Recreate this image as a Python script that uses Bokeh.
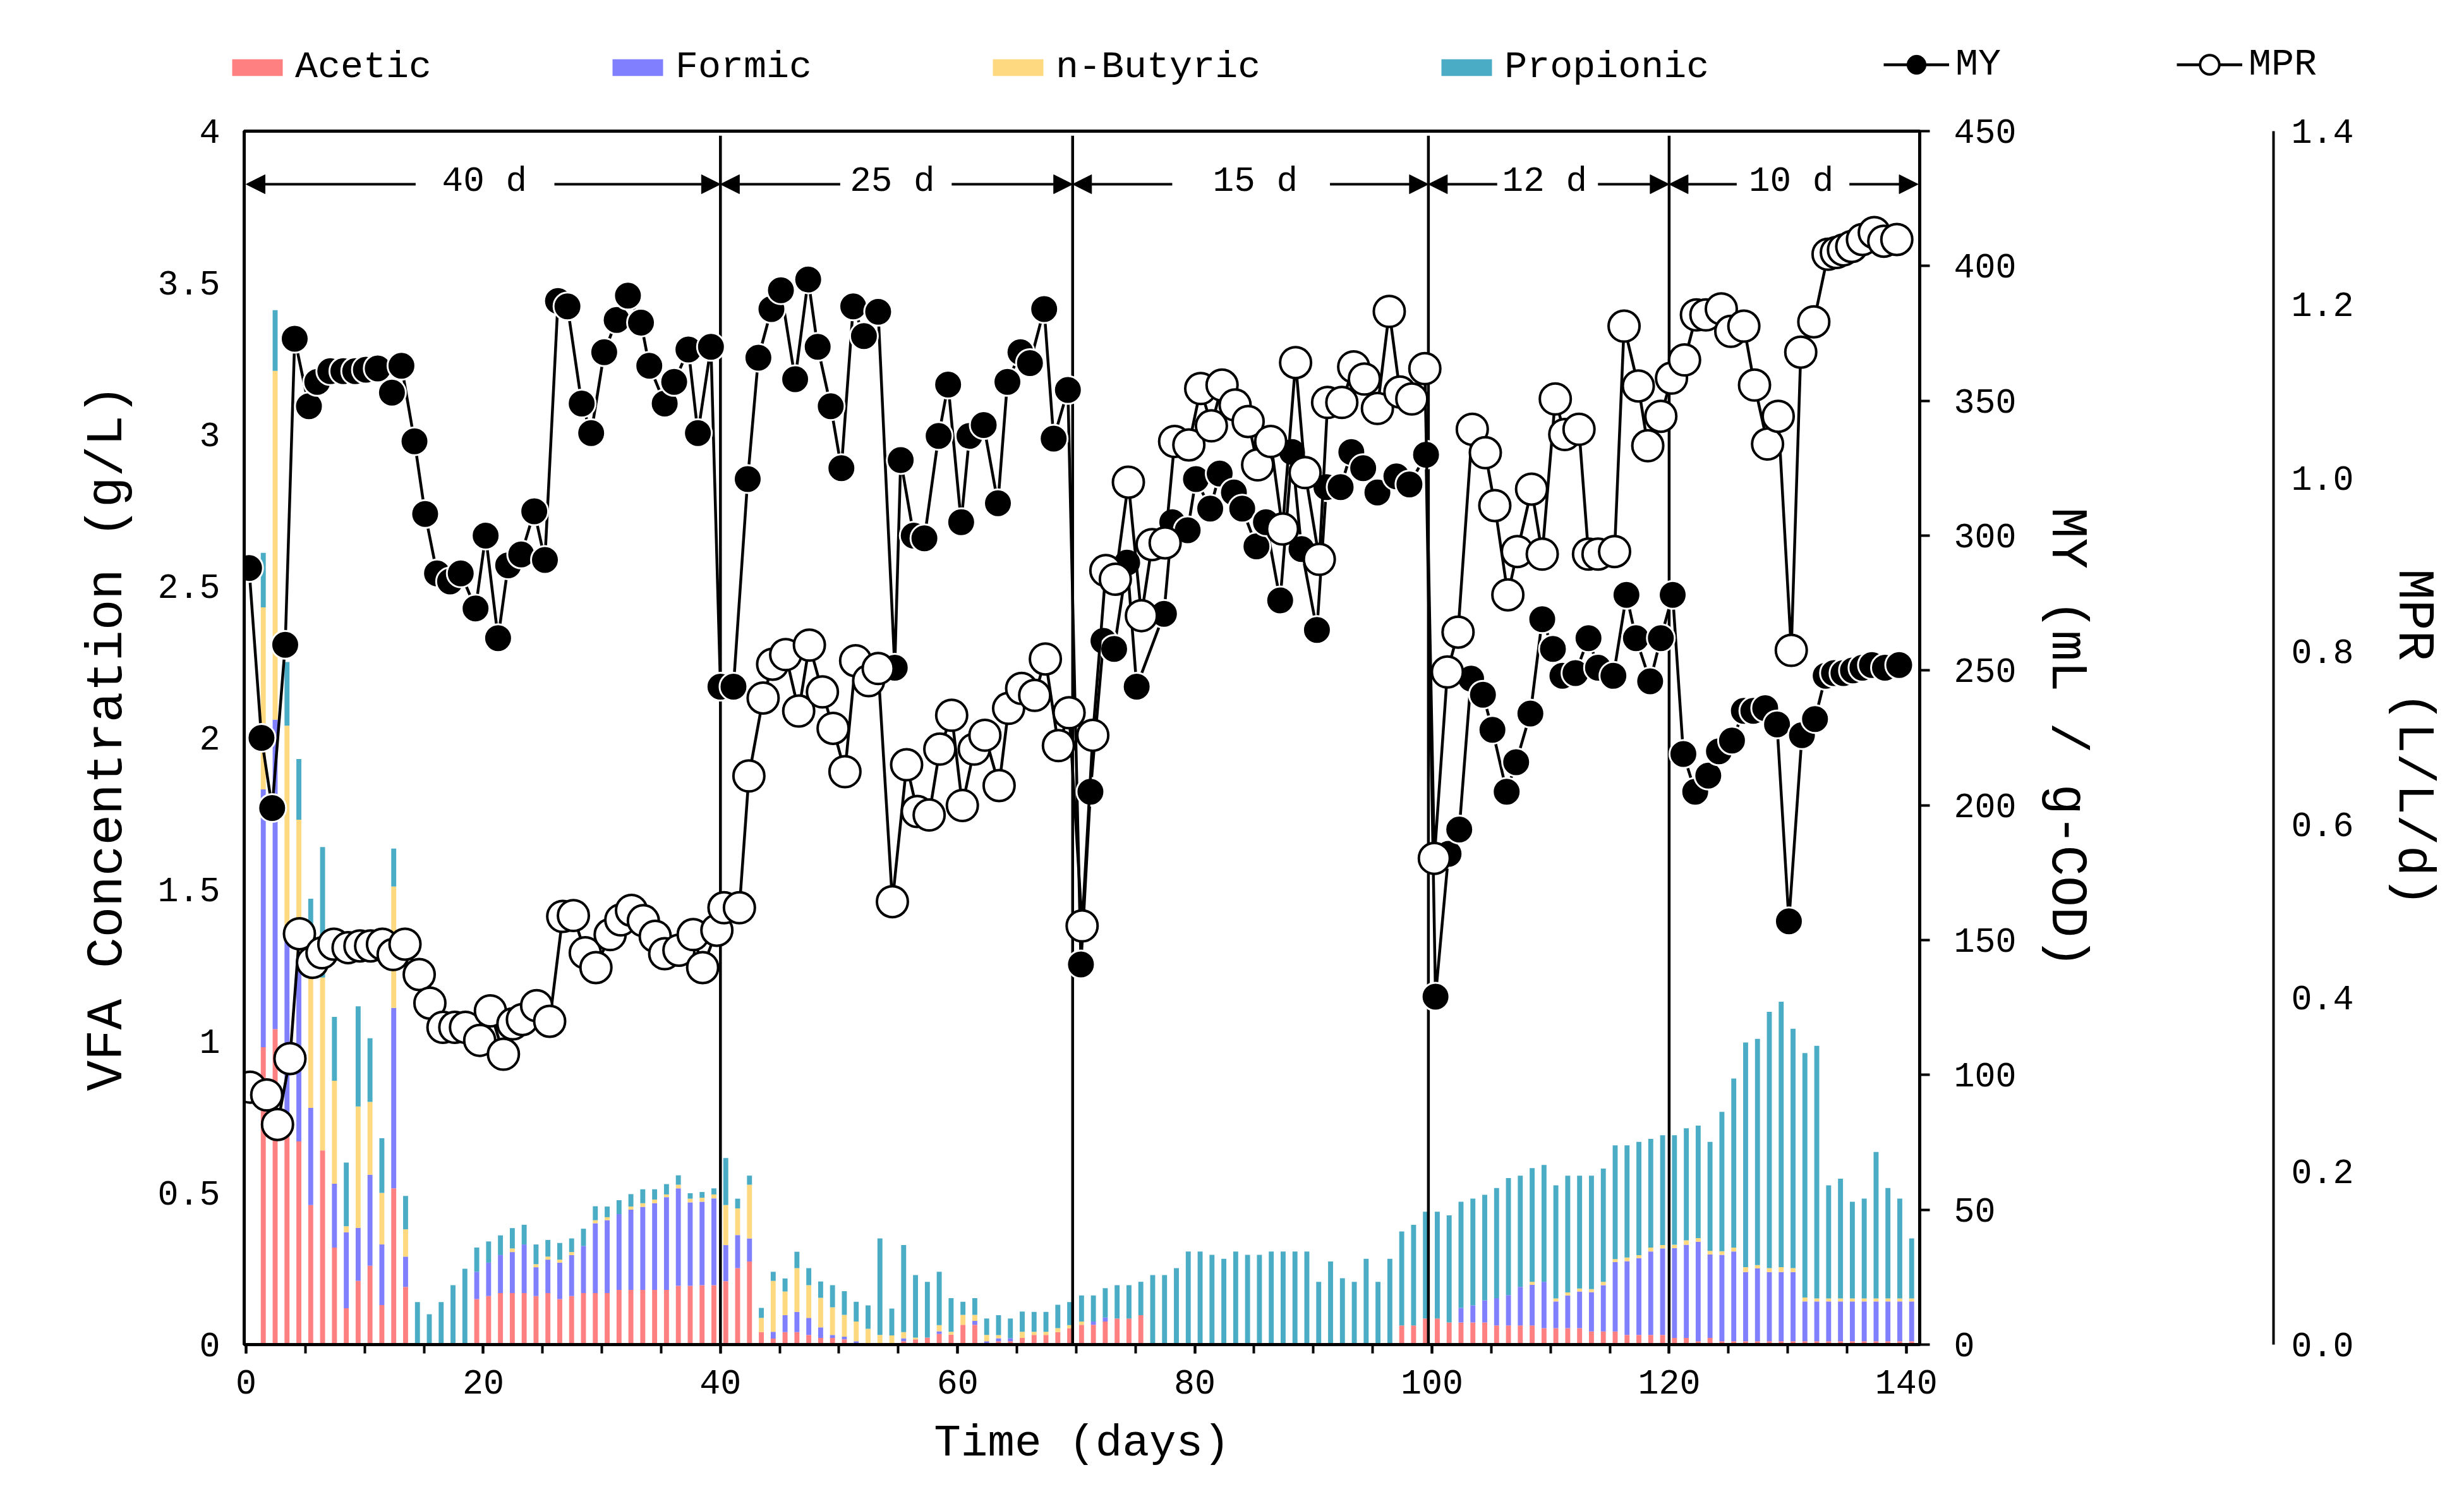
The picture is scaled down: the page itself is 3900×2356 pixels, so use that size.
from bokeh.plotting import figure
from bokeh.layouts import column
from bokeh.models import (Range1d, LinearAxis, FixedTicker, PrintfTickFormatter, Legend,
                          LegendItem, Arrow, NormalHead, Label, ColumnDataSource,
                          CustomJSTickFormatter)
from bokeh.transform import dodge
from bokeh.embed import file_html
from bokeh.resources import INLINE

FONT = "Liberation Mono"

# ---------------- data ----------------
days = list(range(1, 141))
acetic = [0.98, 1.04, 0.75, 0.67, 0.46, 0.64, 0.32, 0.12, 0.21, 0.26, 0.13, 0.515, 0.19,
          0, 0, 0, 0, 0,
          0.15, 0.16, 0.17, 0.17, 0.17, 0.16, 0.17, 0.15, 0.16, 0.17,
          0.17, 0.17, 0.18, 0.18, 0.18, 0.18, 0.18, 0.194, 0.194, 0.196, 0.196,
          0.209, 0.252, 0.274, 0.041, 0.02, 0.041, 0.041, 0.032, 0.022, 0.022, 0.017,
          0, 0, 0, 0, 0.011, 0.017, 0.023, 0.035, 0.033, 0.065,
          0.065, 0, 0.011, 0.011, 0.022, 0.032, 0.032, 0.041, 0.054, 0.065,
          0.065, 0.076, 0.086, 0.086, 0.097, 0, 0, 0, 0, 0,
          0, 0, 0, 0, 0, 0, 0, 0, 0, 0,
          0, 0, 0, 0, 0, 0, 0.063, 0.063, 0.086, 0.086,
          0.073, 0.073, 0.073, 0.073, 0.063, 0.063, 0.063, 0.063, 0.054, 0.054,
          0.054, 0.054, 0.043, 0.043, 0.043, 0.032, 0.032, 0.032, 0.032, 0.022,
          0.022, 0.011, 0.022, 0.011, 0.011, 0.011, 0.011, 0.011, 0.011, 0.011,
          0.011, 0.011, 0.011, 0.011, 0.011, 0.011, 0.011, 0.011, 0.011, 0.011]
formic = [0.85, 1.02, 0.62, 0.56, 0.32, 0, 0.21, 0.25, 0.175, 0.30, 0.20, 0.595, 0.10,
          0, 0, 0, 0, 0,
          0.09, 0.11, 0.125, 0.135, 0.16, 0.095, 0.11, 0.12, 0.135, 0.155,
          0.23, 0.24, 0.25, 0.265, 0.274, 0.286, 0.306, 0.321, 0.275, 0.275, 0.286,
          0.119, 0.109, 0.076, 0, 0.022, 0.056, 0.067, 0.056, 0.035, 0.01, 0.009,
          0.011, 0, 0, 0, 0.01, 0, 0, 0.009, 0, 0,
          0.013, 0.011, 0.01, 0.01, 0, 0, 0, 0, 0, 0,
          0.011, 0.013, 0, 0, 0, 0, 0, 0, 0, 0,
          0, 0, 0, 0, 0, 0, 0, 0, 0, 0,
          0, 0, 0, 0, 0, 0, 0, 0, 0, 0,
          0, 0.048, 0.056, 0.073, 0.09, 0.10, 0.127, 0.134, 0.153, 0.088,
          0.108, 0.121, 0.13, 0.153, 0.229, 0.243, 0.253, 0.275, 0.285, 0.296,
          0.307, 0.328, 0.275, 0.285, 0.296, 0.228, 0.24, 0.228, 0.228, 0.228,
          0.131, 0.131, 0.131, 0.131, 0.131, 0.131, 0.131, 0.131, 0.131, 0.131]
butyric = [0.60, 1.15, 0.67, 0.50, 0.54, 0.57, 0.34, 0.02, 0.40, 0.24, 0.17, 0.40, 0.09,
           0, 0, 0, 0, 0,
           0, 0, 0, 0.012, 0, 0.01, 0.01, 0.01, 0.01, 0,
           0.01, 0.01, 0, 0.01, 0.012, 0.012, 0.009, 0.012, 0.012, 0.013, 0.013,
           0.132, 0.088, 0.177, 0.047, 0.168, 0.078, 0.144, 0.108, 0.097, 0.091, 0.072,
           0.065, 0.052, 0.032, 0.03, 0.02, 0.006, 0, 0.02, 0.009, 0.033,
           0.02, 0.021, 0.01, 0, 0.02, 0.01, 0.01, 0.013, 0.01, 0.011,
           0, 0, 0, 0, 0, 0, 0, 0, 0, 0,
           0, 0, 0, 0, 0, 0, 0, 0, 0, 0,
           0, 0, 0, 0, 0, 0, 0, 0, 0, 0,
           0, 0, 0, 0, 0, 0, 0, 0.01, 0, 0.01,
           0.01, 0.01, 0.01, 0.011, 0.01, 0.012, 0.01, 0.013, 0.011, 0.011,
           0.015, 0.012, 0.012, 0.012, 0.013, 0.016, 0.011, 0.013, 0.016, 0.013,
           0.013, 0.01, 0.01, 0.01, 0.01, 0.01, 0.01, 0.01, 0.01, 0.01]
propionic = [0.18, 0.20, 0.21, 0.20, 0.15, 0.43, 0.21, 0.21, 0.33, 0.21, 0.18, 0.125, 0.11,
             0.14, 0.10, 0.14, 0.196, 0.25,
             0.08, 0.07, 0.065, 0.067, 0.065, 0.065, 0.055, 0.055, 0.045, 0.057,
             0.046, 0.035, 0.046, 0.041, 0.046, 0.034, 0.034, 0.031, 0.018, 0.019, 0.02,
             0.155, 0.032, 0.03, 0.033, 0.03, 0.043, 0.054, 0.056, 0.054, 0.073, 0.078,
             0.065, 0.077, 0.318, 0.089, 0.287, 0.206, 0.184, 0.176, 0.111, 0.043,
             0.055, 0.054, 0.066, 0.065, 0.067, 0.066, 0.066, 0.077, 0.076, 0.086,
             0.086, 0.097, 0.11, 0.11, 0.11, 0.229, 0.229, 0.252, 0.307, 0.307,
             0.296, 0.283, 0.307, 0.296, 0.296, 0.307, 0.307, 0.307, 0.307, 0.207,
             0.274, 0.219, 0.207, 0.283, 0.207, 0.283, 0.31, 0.332, 0.352, 0.352,
             0.353, 0.35, 0.352, 0.348, 0.363, 0.386, 0.367, 0.375, 0.385, 0.373,
             0.385, 0.372, 0.374, 0.373, 0.375, 0.37, 0.373, 0.358, 0.362, 0.361,
             0.369, 0.371, 0.359, 0.459, 0.557, 0.741, 0.746, 0.845, 0.875, 0.789,
             0.806, 0.833, 0.373, 0.395, 0.319, 0.329, 0.483, 0.364, 0.329, 0.198]

my_day = [0.25, 1.3, 2.2, 3.3, 4.1, 5.3, 6.0, 7.1, 8.2, 9.2, 10.1, 11.1, 12.3, 13.1, 14.2,
          15.1, 16.1, 17.2, 18.1, 19.35, 20.2, 21.25, 22.1, 23.2, 24.3, 25.2, 26.3, 27.1,
          28.3, 29.1, 30.2, 31.25, 32.2, 33.3, 34.0, 35.3, 36.1, 37.3, 38.1, 39.2,
          40.0, 41.1, 42.3, 43.2, 44.3, 45.1, 46.3, 47.4, 48.2, 49.3, 50.2, 51.2, 52.1,
          53.3, 54.7, 55.2, 56.3, 57.2, 58.4, 59.2, 60.3, 61.0, 62.2, 63.4, 64.2, 65.3,
          66.1, 67.3, 68.1, 69.3,
          70.4, 71.2, 72.3, 73.2, 74.3, 75.1, 77.4, 78.1, 79.4, 80.1, 81.3, 82.1, 83.3,
          84.0, 85.2, 86.0, 87.2, 88.2, 89.0, 90.3, 91.1, 92.3, 93.2, 94.2, 95.4, 97.0,
          98.1, 99.5,
          100.3, 101.4, 102.3, 103.3, 104.3, 105.1, 106.3, 107.1, 108.3, 109.3, 110.2,
          111.0, 112.1, 113.2, 114.0, 115.3, 116.4, 117.2, 118.4, 119.3,
          120.3, 121.2, 122.2, 123.3, 124.2, 125.3, 126.3, 127.1, 128.1, 129.1, 130.1,
          131.2, 132.3, 133.2, 133.9, 134.7, 135.5, 136.3, 137.1, 138.2, 139.4]
my_val = [288, 225, 199, 259.5, 373, 348, 357, 361, 361, 361, 361.5, 362, 353, 363, 335,
          308, 286, 283, 286, 273, 300, 262, 289, 293, 309, 291, 387, 385,
          349, 338, 368, 380, 389, 379, 363, 349, 357, 369, 338, 370,
          244, 244, 321, 366, 384, 391, 358, 395, 370, 348, 325, 385, 374,
          383, 251, 328, 300, 299, 337, 356, 305, 337, 341, 312, 357, 368,
          364, 384, 336, 354,
          141, 205, 261, 258, 290, 244, 271, 305, 302, 321, 310, 323, 316,
          310, 296, 305, 276, 331, 295, 265, 318, 318, 331, 325, 316, 322,
          319, 330,
          129, 182, 191, 247, 241, 228, 205, 216, 234, 269, 258,
          248, 249, 262, 251, 248, 278, 262, 246, 262,
          278, 219, 205, 211, 220, 224, 235, 235, 236, 230, 157,
          226, 232, 248, 249, 249, 250, 251, 252, 251, 252]

mpr_day = [0.34, 1.74, 2.65, 3.7, 4.5, 5.6, 6.4, 7.4, 8.6, 9.6, 10.5, 11.5, 12.4, 13.4,
           14.6, 15.5, 16.6, 17.6, 18.5, 19.7, 20.6, 21.7, 22.5, 23.3, 24.5, 25.6, 26.7,
           27.6, 28.6, 29.5, 30.7, 31.6, 32.5, 33.5, 34.5, 35.3, 36.5, 37.7, 38.5, 39.7,
           40.3, 41.6, 42.4, 43.6, 44.4, 45.5, 46.6, 47.5, 48.6, 49.5, 50.5, 51.4, 52.5,
           53.3, 54.5, 55.7, 56.6, 57.6, 58.5, 59.5, 60.4, 61.4, 62.3, 63.5, 64.3, 65.4,
           66.5, 67.4, 68.5, 69.4,
           70.5, 71.4, 72.5, 73.3, 74.4, 75.5, 76.4, 77.5, 78.3, 79.5, 80.5, 81.4, 82.3,
           83.4, 84.5, 85.3, 86.4, 87.4, 88.5, 89.3, 90.5, 91.2, 92.4, 93.4, 94.3, 95.4,
           96.4, 97.3, 98.3, 99.4,
           100.2, 101.3, 102.2, 103.4, 104.5, 105.3, 106.4, 107.2, 108.4, 109.3, 110.4,
           111.2, 112.4, 113.2, 114.0, 115.4, 116.2, 117.4, 118.2, 119.3,
           120.2, 121.3, 122.3, 123.1, 124.4, 125.2, 126.3, 127.2, 128.3, 129.2, 130.3,
           131.1, 132.2, 133.4, 134.1, 134.7, 135.4, 136.3, 137.3, 138.1, 139.2]
mpr_val = [0.297, 0.288, 0.254, 0.330, 0.474, 0.441, 0.452, 0.462, 0.458, 0.460, 0.460,
           0.462, 0.450, 0.462, 0.427, 0.394, 0.366, 0.366, 0.366, 0.351, 0.385, 0.335,
           0.370, 0.375, 0.391, 0.373, 0.494, 0.495, 0.452, 0.435, 0.473, 0.490, 0.501,
           0.489, 0.471, 0.451, 0.455, 0.473, 0.435, 0.478,
           0.504, 0.504, 0.656, 0.746, 0.785, 0.796, 0.731, 0.807, 0.753, 0.711, 0.661,
           0.789, 0.766, 0.780, 0.511, 0.669, 0.615, 0.611, 0.687, 0.726, 0.622, 0.687,
           0.703, 0.645, 0.734, 0.757, 0.749, 0.791, 0.691, 0.729,
           0.483, 0.703, 0.893, 0.883, 0.995, 0.841, 0.923, 0.925, 1.042, 1.038, 1.103,
           1.060, 1.107, 1.084, 1.065, 1.015, 1.042, 0.941, 1.133, 1.006, 0.906, 1.087,
           1.087, 1.128, 1.114, 1.080, 1.192, 1.099, 1.091, 1.126,
           0.561, 0.776, 0.822, 1.056, 1.029, 0.968, 0.865, 0.915, 0.987, 0.912, 1.091,
           1.050, 1.056, 0.912, 0.912, 0.915, 1.175, 1.106, 1.037, 1.071,
           1.115, 1.136, 1.188, 1.188, 1.195, 1.169, 1.175, 1.107, 1.039, 1.071, 0.801,
           1.145, 1.180, 1.258, 1.260, 1.263, 1.267, 1.275, 1.283, 1.273, 1.275]

x_ticks = [0, 20, 40, 60, 80, 100, 120, 140]
vfa_ticks = [0, 0.5, 1, 1.5, 2, 2.5, 3, 3.5, 4]
my_ticks = [0, 50, 100, 150, 200, 250, 300, 350, 400, 450]
mpr_ticks = [0, 0.2, 0.4, 0.6, 0.8, 1.0, 1.2, 1.4]

# operating periods (HRT) annotation
separators = [40, 69.7, 99.7, 120]
period_start = [0, 40, 69.7, 99.7, 120]
period_end = [40, 69.7, 99.7, 120, 141]
period_label = ["40 d", "25 d", "15 d", "12 d", "10 d"]
period_label_x = [20.1, 54.5, 85.1, 109.5, 130.3]
arrow_inner_left = [14.3, 50.1, 78.1, 105.5, 125.7]
arrow_inner_right = [26.0, 59.5, 91.4, 114.0, 135.2]

names = ["Acetic", "Formic", "n-Butyric", "Propionic"]
colors = ["#FF8080", "#8080FF", "#FFD980", "#4BACC6"]

LEG_H = 162          # height of the legend strip above the chart
TOTAL_H = 2356
W = 3900

# ---------------- main figure ----------------
p = figure(width=W, height=TOTAL_H - LEG_H, output_backend="svg", toolbar_location=None,
           x_range=Range1d(-0.16, 141.13), y_range=Range1d(0, 4),
           min_border_left=386, min_border_right=862, min_border_top=45,
           min_border_bottom=229)
p.frame_align = False
p.extra_y_ranges = {"my": Range1d(0, 450), "mpr": Range1d(0, 1.4)}
p.grid.visible = False
p.outline_line_color = "black"
p.outline_line_width = 5
p.background_fill_color = "white"
p.border_fill_color = "white"

src = ColumnDataSource(dict(day=days, Acetic=acetic, Formic=formic,
                            **{"n-Butyric": butyric}, Propionic=propionic))
bars = p.vbar_stack(names, x=dodge("day", 0.45, range=p.x_range), width=0.42,
                    color=colors, line_color=None, source=src)

p.segment(x0=separators, y0=[0] * len(separators), x1=separators,
          y1=[3.985] * len(separators), line_width=4.5, line_color="black")

my_line = p.line(my_day, my_val, y_range_name="my", line_width=4.5, line_color="black")
my_pts = p.scatter(my_day, my_val, y_range_name="my", size=44, fill_color="black",
                   line_color="white", line_width=3)
mpr_line = p.line(mpr_day, mpr_val, y_range_name="mpr", line_width=4.5, line_color="black")
mpr_pts = p.scatter(mpr_day, mpr_val, y_range_name="mpr", size=49, fill_color="white",
                    line_color="black", line_width=4)

for s, e, lab, lx, il, ir in zip(period_start, period_end, period_label, period_label_x,
                                 arrow_inner_left, arrow_inner_right):
    p.add_layout(Arrow(end=NormalHead(size=30, fill_color="black", line_color="black"),
                       x_start=il, y_start=3.825, x_end=s, y_end=3.825,
                       line_width=4, line_color="black"))
    p.add_layout(Arrow(end=NormalHead(size=30, fill_color="black", line_color="black"),
                       x_start=ir, y_start=3.825, x_end=e, y_end=3.825,
                       line_width=4, line_color="black"))
    p.add_layout(Label(x=lx, y=3.835, text=lab, text_align="center", text_baseline="middle",
                       text_font=FONT, text_font_size="56px", text_color="black"))

def style_axis(ax, label_size="55px", title_size="81px"):
    ax.major_label_text_font = FONT
    ax.major_label_text_font_size = label_size
    ax.major_label_text_color = "black"
    ax.axis_label_text_font = FONT
    ax.axis_label_text_font_size = title_size
    ax.axis_label_text_font_style = "normal"
    ax.axis_label_text_color = "black"
    ax.axis_line_color = "black"
    ax.axis_line_width = 5
    ax.major_tick_line_color = "black"
    ax.major_tick_line_width = 4
    ax.minor_tick_line_color = "black"
    ax.minor_tick_line_width = 4
    ax.major_tick_in = 0
    ax.minor_tick_in = 0

xa = p.xaxis[0]
xa.ticker = FixedTicker(ticks=x_ticks, minor_ticks=list(range(0, 141, 5)))
style_axis(xa, title_size="71px")
xa.major_tick_out = 14
xa.minor_tick_out = 14
xa.major_label_standoff = 26
xa.axis_label = "Time (days)"
xa.axis_label_standoff = 36

ya = p.yaxis[0]
ya.ticker = FixedTicker(ticks=vfa_ticks)
ya.formatter = PrintfTickFormatter(format="%g")
style_axis(ya)
ya.major_tick_out = 0
ya.major_tick_line_color = None
ya.minor_tick_line_color = None
ya.major_label_standoff = 38
ya.axis_label = "VFA Concentration (g/L)"
ya.axis_label_standoff = 30

my_ax = LinearAxis(y_range_name="my", ticker=FixedTicker(ticks=my_ticks))
style_axis(my_ax)
my_ax.major_tick_out = 16
my_ax.minor_tick_line_color = None
my_ax.major_label_standoff = 38
my_ax.axis_label = "MY (mL / g-COD)"
my_ax.axis_label_standoff = 30
p.add_layout(my_ax, "right")

# blank spacer between the MY axis and the MPR axis
spacer = LinearAxis(y_range_name="my", ticker=FixedTicker(ticks=[0]),
                    formatter=CustomJSTickFormatter(code="return ''"))
spacer.axis_line_color = None
spacer.major_tick_line_color = None
spacer.minor_tick_line_color = None
spacer.major_tick_out = 280
spacer.major_tick_in = 0
spacer.major_label_standoff = 0
spacer.major_label_text_font_size = "1px"
p.add_layout(spacer, "right")

mpr_ax = LinearAxis(y_range_name="mpr", ticker=FixedTicker(ticks=mpr_ticks),
                    formatter=PrintfTickFormatter(format="%.1f"))
style_axis(mpr_ax)
mpr_ax.axis_line_width = 4
mpr_ax.major_tick_out = 0
mpr_ax.major_tick_line_color = None
mpr_ax.minor_tick_line_color = None
mpr_ax.major_label_standoff = 28
mpr_ax.axis_label = "MPR (L/L/d)"
mpr_ax.axis_label_standoff = 45
p.add_layout(mpr_ax, "right")

# ---------------- legend strip ----------------
lf = figure(width=W, height=LEG_H, output_backend="svg", toolbar_location=None,
            x_range=Range1d(0, 1), y_range=Range1d(0, 1),
            x_axis_type=None, y_axis_type=None, min_border=0)
lf.frame_align = False
lf.outline_line_color = None
lf.grid.visible = False
lf.background_fill_color = "white"
lf.border_fill_color = "white"

# proxy glyphs (placed outside the visible range) that only feed the legend
leg_renderers = [lf.vbar(x=[-5], top=[-5], bottom=[-6], width=0.1, fill_color=c,
                         line_color=None) for c in colors]
l_my_line = lf.line(x=[-5, -6], y=[-5, -6], line_width=4.5, line_color="black")
l_my_pts = lf.scatter(x=[-5], y=[-5], size=30, fill_color="black", line_color="black")
l_mpr_line = lf.line(x=[-5, -6], y=[-5, -6], line_width=4.5, line_color="black")
l_mpr_pts = lf.scatter(x=[-5], y=[-5], size=30, fill_color="white", line_color="black",
                       line_width=4)

common = dict(orientation="horizontal", label_standoff=10, padding=0, margin=0,
              border_line_color=None, background_fill_alpha=0, label_text_font=FONT,
              label_text_font_size="60px", label_text_color="black")

bar_items = [LegendItem(label=n, renderers=[r]) for n, r in zip(names, leg_renderers)]
legend_bars = Legend(items=bar_items, location=(357, 22), spacing=276,
                     glyph_width=100, glyph_height=33, **common)
lf.add_layout(legend_bars, "center")

line_items = [LegendItem(label="MY", renderers=[l_my_line, l_my_pts]),
              LegendItem(label="MPR", renderers=[l_mpr_line, l_mpr_pts])]
legend_lines = Legend(items=line_items, location=(2981, 22), spacing=278,
                      glyph_width=104, glyph_height=76, **common)
lf.add_layout(legend_lines, "center")

layout = column(lf, p, spacing=0)
open("out.html", "w").write(file_html(layout, INLINE))
